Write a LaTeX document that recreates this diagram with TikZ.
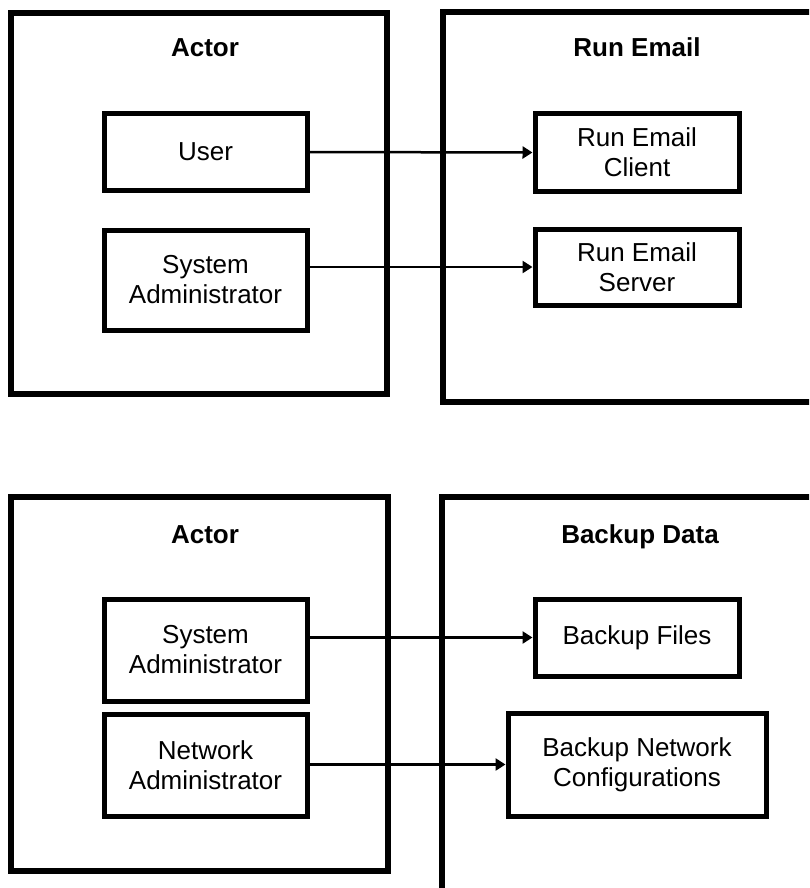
\documentclass[tikz,border=0pt]{standalone}
\usepackage{fontspec}
\setmainfont{Liberation Sans}
\usetikzlibrary{arrows.meta}
\begin{document}
\begin{tikzpicture}[x=1pt,y=-1pt,
  every node/.style={font=\fontsize{26pt}{30pt}\selectfont, align=center, inner sep=0pt},
  item/.style={draw, line width=5pt, minimum width=203pt, minimum height=77pt},
  outer/.style={draw, line width=6pt},
  title/.style={font=\bfseries\fontsize{26pt}{30pt}\selectfont, anchor=base},
  conn/.style={line width=2.5pt, -{Triangle[length=10pt,width=12pt]}}]
\useasboundingbox (0,0) rectangle (809,888);
\begin{scope}
\clip (0,0) rectangle (809,888);
% top section
\node[outer, minimum width=376pt, minimum height=381pt] (actorA) at (199,203.5) {};
\draw[line width=6pt] (830,12) -- (442.5,12) -- (442.5,402) -- (830,402);
\node[title] (tActorA) at (205,56.5) {Actor};
\node[title] (tRun) at (637,56.5) {Run Email};
\node[item, minimum height=76pt] (user) at (205.5,152) {User};
\node[item, minimum height=100pt] (sa1) at (205.5,280) {System\\Administrator};
\node[item, minimum width=204pt, minimum height=77pt] (rec) at (637,152.5) {Run Email\\Client};
\node[item, minimum width=204pt, minimum height=76pt] (res) at (637,267) {Run Email\\Server};
\draw[conn] (user.east) -- (rec.west);
\draw[conn] (sa1.east |- res.west) -- (res.west);
% bottom section
\node[outer, minimum width=377pt, minimum height=374pt] (actorB) at (199.5,684) {};
\draw[line width=6pt] (830,497) -- (442,497) -- (442,900);
\node[title] (tActorB) at (205,543.5) {Actor};
\node[title] (tBackup) at (640,543.5) {Backup Data};
\node[item, minimum height=102pt] (sa2) at (205.5,650) {System\\Administrator};
\node[item, minimum height=102pt] (na) at (205.5,765) {Network\\Administrator};
\node[item, minimum width=204pt, minimum height=77pt] (bf) at (637,637.5) {Backup Files};
\node[item, minimum width=258pt, minimum height=103pt] (bnc) at (637,764.5) {Backup Network\\Configurations};
\draw[conn] (sa2.east |- bf.west) -- (bf.west);
\draw[conn] (na.east |- bnc.west) -- (bnc.west);
\end{scope}
\end{tikzpicture}
\end{document}
